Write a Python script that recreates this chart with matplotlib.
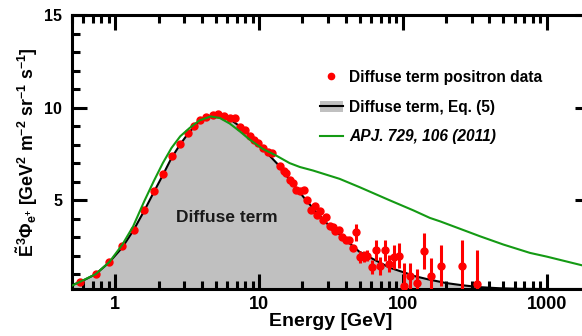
import matplotlib
matplotlib.use("Agg")
import matplotlib.pyplot as plt
from matplotlib.lines import Line2D
from matplotlib.patches import Patch
from matplotlib.ticker import LogLocator, MultipleLocator, FixedLocator, NullFormatter

plt.rcParams['font.family'] = ['Liberation Sans', 'DejaVu Sans']
plt.rcParams['font.weight'] = 'bold'
plt.rcParams['mathtext.fontset'] = 'custom'
plt.rcParams['mathtext.rm'] = 'Liberation Sans:bold'
plt.rcParams['mathtext.bf'] = 'Liberation Sans:bold'
plt.rcParams['mathtext.it'] = 'Liberation Sans:italic:bold'

# ---------------- data ---------------- #

# positron data (diffuse term)
data_E = [0.565, 0.73, 0.91, 1.12, 1.34, 1.59, 1.85, 2.14, 2.46, 2.83, 3.19, 3.55,
          3.90, 4.30, 4.78, 5.20, 5.67, 6.24, 6.80, 7.33, 7.98, 8.60, 9.27, 9.89,
          10.6, 11.6, 12.2, 13.9, 14.8, 15.5, 16.5, 17.2, 18.1, 19.3, 20.4, 21.5,
          23.0, 24.3, 25.3, 26.7, 27.9, 29.4, 31.0, 32.7, 33.8, 36.0, 38.0, 40.1,
          41.9, 45.1, 47.5, 50.7, 53.5, 56.4, 60.8, 64.9, 69.2, 74.5, 80.3, 86.5,
          93.3, 101.6, 112, 124.5, 140, 158, 183, 259, 325]
data_y = [0.56, 1.03, 1.68, 2.50, 3.41, 4.49, 5.50, 6.40, 7.37, 8.05, 8.60, 8.99,
          9.31, 9.49, 9.60, 9.64, 9.53, 9.46, 9.42, 8.96, 8.78, 8.49, 8.27, 8.09,
          7.84, 7.62, 7.55, 6.83, 6.58, 6.47, 6.11, 5.95, 5.57, 5.48, 5.53, 5.03,
          4.49, 4.66, 4.20, 4.39, 3.95, 4.09, 3.62, 3.55, 3.33, 3.41, 3.01, 2.86,
          2.86, 2.43, 3.26, 1.93, 1.96, 2.00, 1.39, 2.29, 1.43, 2.29, 1.57, 1.93,
          2.00, 0.38, 0.88, 0.52, 2.25, 0.88, 1.46, 1.42, 0.49]
data_err = [0.06] * 24 + [0.1] * 12 + [0.15] * 14 + \
           [0.45, 0.3, 0.3, 0.3, 0.4, 0.54, 0.5, 0.58, 0.45, 0.63,
            0.68, 1.25, 0.74, 0.78, 0.97, 1.0, 1.1, 1.42, 1.84]

# diffuse term, Eq. (5)
model_E = [0.5, 0.565, 0.73, 0.91, 1.12, 1.34, 1.59, 1.85, 2.14, 2.46, 2.83, 3.19,
           3.55, 3.9, 4.3, 4.8, 5.3, 5.9, 6.6, 7.3, 8.2, 9.2, 10.6, 12.0, 13.9,
           16.3, 20.2, 25, 30, 38, 50, 62, 81, 106, 120, 150, 200, 260, 343, 470,
           650, 1000, 2000]
model_y = [0.42, 0.56, 1.0, 1.65, 2.45, 3.38, 4.43, 5.42, 6.35, 7.28, 8.02, 8.57,
           8.98, 9.28, 9.47, 9.56, 9.55, 9.45, 9.25, 9.0, 8.65, 8.25, 7.8, 7.35, 6.83,
           6.1, 5.2, 4.35, 3.7, 3.0, 2.2, 1.82, 1.35, 1.05, 0.9, 0.72, 0.52, 0.4, 0.3,
           0.24, 0.21, 0.2, 0.2]

# ApJ 729, 106 (2011)
apj_E = [0.5, 0.73, 0.91, 1.12, 1.33, 1.59, 1.85, 2.14, 2.46, 2.83, 3.29, 3.86,
         4.6, 5.32, 6.24, 7.33, 8.6, 10.6, 13.2, 16.3, 19.2, 23.7, 36.3, 50, 81,
         118, 154, 182, 250, 343, 500, 765, 1000, 1760, 2000]
apj_y = [0.38, 1.0, 1.66, 2.6, 3.58, 4.94, 6.02, 7.0, 7.82, 8.45, 8.9, 9.31,
         9.52, 9.44, 9.14, 8.72, 8.27, 7.77, 7.4, 7.0, 6.79, 6.6, 6.15, 5.7, 4.99,
         4.45, 4.04, 3.85, 3.45, 3.05, 2.6, 2.15, 1.95, 1.48, 1.4]

YMIN, YMAX = 0.2, 15
XMIN, XMAX = 0.5, 2000

# ---------------- plot ---------------- #

fig = plt.figure(figsize=(5.82, 3.36), dpi=100)
ax = fig.add_axes([72 / 582, 47 / 336, 518 / 582, 274 / 336])

ax.fill_between(model_E, model_y, YMIN, color='#c0c0c0', lw=0, zorder=1)
ax.plot(model_E, model_y, color='black', lw=1.5, zorder=2)
ax.plot(apj_E, apj_y, color='#149a14', lw=1.5, zorder=4)
ax.errorbar(data_E, data_y, yerr=data_err, fmt='o', color='red', ms=5,
            elinewidth=2.2, capsize=0, mec='red', zorder=3)

ax.text(5.95, 4.05, 'Diffuse term', ha='center', va='center',
        fontsize=12.5, fontweight='bold', color='#1a1a1a', zorder=5)

ax.set_xscale('log')
ax.set_xlim(XMIN, XMAX)
ax.set_ylim(YMIN, YMAX)

ax.xaxis.set_major_locator(FixedLocator([1, 10, 100, 1000]))
ax.set_xticklabels(['1', '10', '100', '1000'])
ax.xaxis.set_minor_locator(LogLocator(base=10, subs=range(2, 10)))
ax.xaxis.set_minor_formatter(NullFormatter())
ax.yaxis.set_major_locator(FixedLocator([5, 10, 15]))
ax.yaxis.set_minor_locator(MultipleLocator(1))

for s in ax.spines.values():
    s.set_linewidth(2.2)
ax.tick_params(which='both', direction='in', top=True, right=True, width=2.2)
ax.tick_params(which='major', length=10.5, pad=6)
ax.tick_params(which='minor', length=5.5)
ax.tick_params(axis='x', labelsize=13, pad=5)
ax.tick_params(axis='y', labelsize=11.5, pad=7)
for lbl in ax.get_xticklabels() + ax.get_yticklabels():
    lbl.set_fontweight('bold')

ax.set_xlabel('Energy [GeV]', fontsize=14, fontweight='bold', labelpad=0)
ax.set_ylabel(r'$\tilde{\mathrm{E}}^3\Phi_{\mathrm{e}^{+}}$ [GeV$^2$ m$^{-2}$ sr$^{-1}$ s$^{-1}$]',
              fontsize=12.8, fontweight='bold', labelpad=3)

handles = [
    Line2D([], [], ls='none', marker='o', ms=4.5, color='red'),
    (Patch(facecolor='#c0c0c0', edgecolor='none'), Line2D([], [], color='black', lw=1.5)),
    Line2D([], [], color='#149a14', lw=1.5),
]
labels = ['Diffuse term positron data', 'Diffuse term, Eq. (5)', 'APJ. 729, 106 (2011)']
leg = ax.legend(handles, labels, loc='upper left', bbox_to_anchor=(0.478, 0.80),
                frameon=False, fontsize=11.2, handlelength=1.5, handletextpad=0.4,
                labelspacing=0.95, borderpad=0, borderaxespad=0)
leg.get_texts()[2].set_style('italic')
for t in leg.get_texts():
    t.set_fontweight('bold')

fig.savefig('out.png', dpi=100)
